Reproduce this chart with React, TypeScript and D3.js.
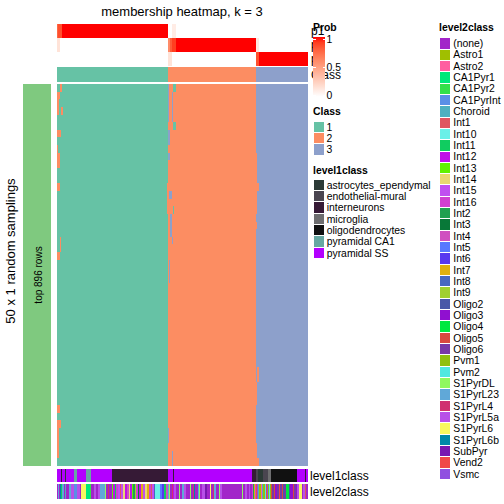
import React from 'react';
import * as d3 from 'd3';

// ---------------- data ----------------
const classNames = ['1', '2', '3'];
const classColors = ['#66c2a5', '#fc8d62', '#8da0cb'];
// consensus class, run-length: [class, number of samples]
const consensusRuns: [number, number][] = [[1, 111], [2, 88], [3, 51]];
const nSamplings = 50;
// membership deviations: [rowFrom, rowTo, colFrom, colTo, class]
const membershipDeviations: [number, number, number, number, number][] = [
  [0, 0, 3, 4, 2], [1, 1, 0, 2, 2], [2, 3, 0, 1, 2], [3, 3, 4, 5, 2], [6, 6, 0, 3, 2],
  [8, 8, 0, 0, 2], [9, 10, 0, 2, 2], [13, 13, 0, 2, 2], [20, 21, 3, 3, 2], [22, 22, 0, 2, 2],
  [42, 42, 0, 2, 2], [44, 44, 0, 3, 2], [45, 48, 0, 1, 2],
  [13, 16, 110, 110, 2],
  [0, 4, 111, 111, 3], [6, 7, 111, 112, 3], [9, 9, 111, 112, 3],
  [0, 0, 116, 118, 1], [1, 4, 115, 115, 3], [5, 5, 116, 118, 1], [14, 14, 112, 114, 3],
  [16, 16, 116, 116, 1], [17, 19, 113, 114, 3], [20, 20, 115, 115, 3], [23, 25, 112, 112, 3],
  [45, 46, 111, 111, 3], [48, 49, 115, 115, 3],
  [9, 12, 199, 199, 2], [13, 13, 199, 201, 2], [14, 16, 199, 199, 2], [18, 18, 199, 199, 2],
  [37, 38, 200, 201, 2], [39, 41, 199, 199, 2], [47, 48, 199, 199, 2], [49, 49, 199, 201, 2],
];
const probRows = ['p1', 'p2', 'p3'];
// probability exceptions: [row, colFrom, colTo, value]
const probExceptions: [string, number, number, number][] = [
  ['p1', 0, 0, 0.75], ['p1', 1, 4, 0.85], ['p2', 0, 2, 0.15], ['p1', 115, 118, 0.1],
  ['p2', 111, 112, 0.6], ['p2', 113, 114, 0.8], ['p2', 115, 118, 0.9], ['p3', 111, 114, 0.15],
  ['p2', 199, 201, 0.12], ['p3', 199, 201, 0.85],
];
const probTicks = [0, 0.5, 1];

const level1Names = ['astrocytes_ependymal', 'endothelial-mural', 'interneurons', 'microglia', 'oligodendrocytes', 'pyramidal CA1', 'pyramidal SS'];
const level1Colors = ['#2b3a36', '#4a4550', '#361a36', '#6e6e70', '#111111', '#66a8a2', '#b300ff'];
const level1Runs: [string, number][] = [
  ['pyramidal SS', 4], ['interneurons', 1], ['pyramidal SS', 3], ['astrocytes_ependymal', 1],
  ['pyramidal SS', 8], ['pyramidal CA1', 3], ['pyramidal SS', 9], ['pyramidal CA1', 5],
  ['pyramidal SS', 21], ['interneurons', 56], ['pyramidal SS', 5], ['interneurons', 1],
  ['pyramidal SS', 78], ['interneurons', 4], ['endothelial-mural', 2], ['astrocytes_ependymal', 5],
  ['endothelial-mural', 5], ['microglia', 3], ['oligodendrocytes', 26], ['pyramidal SS', 8],
  ['interneurons', 1], ['pyramidal SS', 1],
];

const level2Names = ['(none)', 'Astro1', 'Astro2', 'CA1Pyr1', 'CA1Pyr2', 'CA1PyrInt', 'Choroid', 'Int1', 'Int10', 'Int11', 'Int12', 'Int13', 'Int14', 'Int15', 'Int16', 'Int2', 'Int3', 'Int4', 'Int5', 'Int6', 'Int7', 'Int8', 'Int9', 'Oligo2', 'Oligo3', 'Oligo4', 'Oligo5', 'Oligo6', 'Pvm1', 'Pvm2', 'S1PyrDL', 'S1PyrL23', 'S1PyrL4', 'S1PyrL5a', 'S1PyrL6', 'S1PyrL6b', 'SubPyr', 'Vend2', 'Vsmc'];
const level2Colors = ['#a225c9', '#a0bf00', '#ff5fa0', '#00e87a', '#33e04a', '#5a8fe6', '#4fb0c0', '#e05560', '#6af0e8', '#10cc60', '#c010e8', '#60f000', '#e8d870', '#c050f0', '#d040d0', '#20a050', '#087838', '#d050c0', '#5878ff', '#5838f0', '#e0b010', '#4868c0', '#a0d030', '#4858a8', '#9010d0', '#00e840', '#d84840', '#7838a8', '#90c010', '#50e8e0', '#90f860', '#60a8d8', '#d03070', '#b850e8', '#f8f860', '#0088a8', '#7818b0', '#f04848', '#9050e0'];
const level2Runs: [string, number][] = [
  ['(none)', 1], ['S1PyrL23', 1], ['(none)', 1], ['S1PyrL6b', 1], ['Int11', 1],
  ['S1PyrL23', 2], ['(none)', 1], ['Choroid', 1],
  ['(none)', 3], ['S1PyrL23', 2], ['S1PyrL5a', 3], ['CA1PyrInt', 3],
  ['S1PyrL5a', 3], ['(none)', 1], ['S1PyrL6', 5], ['CA1Pyr1', 4], ['CA1Pyr2', 1],
  ['(none)', 3], ['S1PyrL5a', 2], ['(none)', 2], ['S1PyrL5a', 2], ['S1PyrL23', 5], ['S1PyrDL', 1], ['(none)', 2], ['S1PyrL4', 1], ['(none)', 3],
  ['Int13', 1], ['Int12', 2], ['Int11', 1], ['Int16', 2], ['Int15', 2], ['Int1', 1], ['Int15', 2], ['Int14', 2],
  ['Int12', 2], ['Int4', 2], ['Int14', 1], ['Int12', 2], ['Int13', 1], ['Int2', 2], ['Int9', 1], ['Int16', 2],
  ['Int3', 1], ['Int12', 2], ['Int7', 2], ['Int15', 2], ['Int14', 2], ['Int7', 2], ['Int16', 2], ['Int1', 1],
  ['Int15', 2], ['Int8', 1], ['Int10', 5], ['Int5', 2], ['Int6', 2], ['Int11', 2], ['Int4', 2],
  ['S1PyrL23', 1], ['S1PyrDL', 1], ['(none)', 2], ['S1PyrL4', 1], ['Int12', 1],
  ['S1PyrL5a', 2], ['(none)', 3], ['S1PyrDL', 1], ['(none)', 2], ['S1PyrL23', 2], ['S1PyrL5a', 2], ['(none)', 4],
  ['S1PyrDL', 1], ['(none)', 2], ['S1PyrL4', 1], ['S1PyrL6b', 1], ['(none)', 3], ['S1PyrL23', 1], ['S1PyrDL', 1],
  ['(none)', 2], ['S1PyrL5a', 3], ['SubPyr', 2], ['(none)', 3], ['S1PyrL6', 1], ['(none)', 2], ['S1PyrL4', 1],
  ['S1PyrL23', 2], ['(none)', 3], ['S1PyrDL', 1], ['S1PyrL5a', 2], ['(none)', 20], ['S1PyrDL', 1], ['(none)', 2],
  ['S1PyrL5a', 2], ['(none)', 2], ['S1PyrL5a', 1], ['(none)', 2],
  ['Int16', 1], ['Int2', 1], ['Int7', 1], ['Int4', 1], ['Vend2', 1], ['Vsmc', 1],
  ['Choroid', 1], ['Astro1', 2], ['Astro2', 1], ['Choroid', 1],
  ['Pvm1', 2], ['Pvm2', 1], ['Vend2', 1], ['Vsmc', 1], ['Pvm1', 1], ['Pvm2', 1], ['Pvm1', 1],
  ['Oligo5', 1], ['Oligo6', 2], ['Oligo5', 1], ['Oligo3', 2], ['Oligo6', 2], ['Vend2', 1], ['Oligo6', 2],
  ['Oligo5', 1], ['Oligo2', 1], ['Oligo6', 2], ['Oligo4', 3], ['Oligo2', 1], ['Oligo3', 3], ['Oligo5', 1],
  ['Oligo6', 2], ['Oligo3', 1],
  ['S1PyrL5a', 2], ['S1PyrL6', 3], ['(none)', 1], ['S1PyrL5a', 2], ['Int1', 1], ['(none)', 1],
];

const titleText = 'membership heatmap, k = 3';
const leftTitle = '50 x 1 random samplings';
const rowSplitLabel = 'top 896 rows';

// ---------------- helpers ----------------
function expandRuns<T>(runs: [T, number][]): T[] {
  const out: T[] = [];
  runs.forEach(([v, n]) => { for (let i = 0; i < n; i++) out.push(v); });
  return out;
}
function toSegments<T>(arr: T[]): { v: T; s: number; e: number }[] {
  const segs: { v: T; s: number; e: number }[] = [];
  arr.forEach((v, i) => {
    const last = segs[segs.length - 1];
    if (last && last.v === v) last.e = i; else segs.push({ v, s: i, e: i });
  });
  return segs;
}

const consensus = expandRuns(consensusRuns);
const nCols = consensus.length;
const membership: number[][] = d3.range(nSamplings).map(() => consensus.slice());
membershipDeviations.forEach(([r0, r1, c0, c1, k]) => {
  for (let r = r0; r <= r1; r++) for (let c = c0; c <= c1; c++) membership[r][c] = k;
});
const probs: Record<string, number[]> = {};
probRows.forEach((p, i) => { probs[p] = consensus.map((k) => (k === i + 1 ? 1 : 0)); });
probExceptions.forEach(([p, c0, c1, v]) => { for (let c = c0; c <= c1; c++) probs[p][c] = v; });
const level1 = expandRuns(level1Runs);
const level2 = expandRuns(level2Runs);

const FONT = '"Liberation Sans", Arial, Helvetica, sans-serif';
const LEG = 10.4;

export default function App() {
  const x = d3.scaleBand<number>().domain(d3.range(nCols)).range([57.3, 307.3]).padding(0);
  const bw = x.bandwidth();
  const yMain = d3.scaleBand<number>().domain(d3.range(nSamplings)).range([84, 466]).padding(0);
  const yTop = d3.scaleBand<string>().domain(probRows).range([24, 65.7]).padding(0);
  const classColor = d3.scaleOrdinal<number, string>().domain([1, 2, 3]).range(classColors);
  const probColor = d3.scaleLinear<string>().domain([0, 1]).range(['#ffffff', '#ff0000']).interpolate(d3.interpolateLab);
  const l1Color = d3.scaleOrdinal<string, string>().domain(level1Names).range(level1Colors);
  const l2Color = d3.scaleOrdinal<string, string>().domain(level2Names).range(level2Colors);
  const legendProbY = d3.scaleLinear().domain([0, 1]).range([95.5, 39.3]);
  const step = 11.33;

  const segRect = (key: string, s: number, e: number, y: number, h: number, fill: string) => (
    <rect key={key} x={x(s)!} y={y} width={x(e)! + bw - x(s)! + 0.3} height={h} fill={fill} />
  );

  const gradStops = d3.range(0, 1.0001, 0.1);

  return (
    <svg width={504} height={504} style={{ position: 'absolute', left: 0, top: 0, fontFamily: FONT }} shapeRendering="crispEdges">
      <rect width={504} height={504} fill="#ffffff" />
      <defs>
        <linearGradient id="probGrad" x1="0" y1="1" x2="0" y2="0">
          {gradStops.map((t) => (
            <stop key={t} offset={`${t * 100}%`} stopColor={probColor(t)} />
          ))}
        </linearGradient>
      </defs>
      <text x={182} y={16} fontSize={13} textAnchor="middle" shapeRendering="auto">{titleText}</text>

      {/* probability rows */}
      {probRows.map((p) => (
        <g key={p}>
          {toSegments(probs[p]).map((sg, i) => segRect(`${p}-${i}`, sg.s, sg.e, yTop(p)!, yTop.bandwidth(), probColor(sg.v)))}
        </g>
      ))}
      {/* class row */}
      {toSegments(consensus).map((sg, i) => segRect(`cl-${i}`, sg.s, sg.e, 66.7, 15, classColor(sg.v)))}

      {/* main heatmap */}
      {membership.map((row, r) => (
        <g key={r}>
          {toSegments(row).map((sg, i) => segRect(`m-${r}-${i}`, sg.s, sg.e, yMain(r)!, yMain.bandwidth() + 0.3, classColor(sg.v)))}
        </g>
      ))}

      {/* bottom annotations */}
      {toSegments(level1).map((sg, i) => segRect(`l1-${i}`, sg.s, sg.e, 469, 13.3, l1Color(sg.v)))}
      {toSegments(level2).map((sg, i) => segRect(`l2-${i}`, sg.s, sg.e, 483.7, 15.3, l2Color(sg.v)))}
      <text x={310} y={480} fontSize={12} shapeRendering="auto">level1class</text>
      <text x={310} y={496} fontSize={12} shapeRendering="auto">level2class</text>

      {/* left */}
      <rect x={23} y={84} width={28} height={382} fill="#7fc97f" />
      <text transform={`translate(42,275) rotate(-90)`} fontSize={10} textAnchor="middle" shapeRendering="auto">{rowSplitLabel}</text>
      <text transform={`translate(15,251) rotate(-90)`} fontSize={13} textAnchor="middle" shapeRendering="auto">{leftTitle}</text>

      {/* top annotation names */}
      {probRows.map((p) => (
        <text key={p} x={311} y={yTop(p)! + yTop.bandwidth() / 2 + 4} fontSize={12} shapeRendering="auto">{p}</text>
      ))}
      <text x={311} y={78.5} fontSize={12} shapeRendering="auto">Class</text>

      {/* Prob legend */}
      <text x={313} y={30.5} fontSize={LEG} fontWeight="bold" shapeRendering="auto">Prob</text>
      <rect x={313.3} y={36.7} width={11.5} height={60} fill="url(#probGrad)" />
      {probTicks.map((t) => (
        <g key={t}>
          <line x1={313.3} x2={315.5} y1={legendProbY(t)} y2={legendProbY(t)} stroke="#ffffff" strokeWidth={1} />
          <line x1={322.6} x2={324.8} y1={legendProbY(t)} y2={legendProbY(t)} stroke="#ffffff" strokeWidth={1} />
          <text x={326.5} y={legendProbY(t) + 3.6} fontSize={LEG} shapeRendering="auto">{String(t)}</text>
        </g>
      ))}

      {/* Class legend */}
      <text x={313} y={115} fontSize={LEG} fontWeight="bold" shapeRendering="auto">Class</text>
      {classNames.map((c, i) => (
        <g key={c}>
          <rect x={313.3} y={121.3 + i * step} width={step} height={step} fill={classColors[i]} stroke="#ffffff" strokeWidth={1} />
          <text x={326.5} y={121.3 + i * step + 9.3} fontSize={LEG} shapeRendering="auto">{c}</text>
        </g>
      ))}

      {/* level1 legend */}
      <text x={313} y={174} fontSize={LEG} fontWeight="bold" shapeRendering="auto">level1class</text>
      {level1Names.map((n, i) => (
        <g key={n}>
          <rect x={313.3} y={179.3 + i * step} width={step} height={step} fill={l1Color(n)} stroke="#ffffff" strokeWidth={1} />
          <text x={326.7} y={179.3 + i * step + 9.3} fontSize={LEG} shapeRendering="auto">{n}</text>
        </g>
      ))}

      {/* level2 legend */}
      <text x={439} y={30.7} fontSize={LEG} fontWeight="bold" shapeRendering="auto">level2class</text>
      {level2Names.map((n, i) => (
        <g key={n}>
          <rect x={439.3} y={37.7 + i * step} width={step} height={step} fill={l2Color(n)} stroke="#ffffff" strokeWidth={1} />
          <text x={453.3} y={37.7 + i * step + 9.3} fontSize={LEG} shapeRendering="auto">{n}</text>
        </g>
      ))}
    </svg>
  );
}
